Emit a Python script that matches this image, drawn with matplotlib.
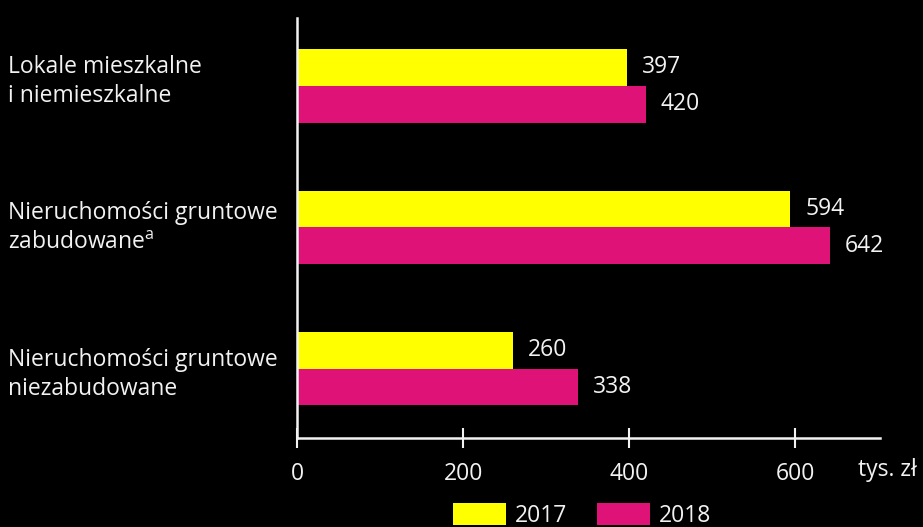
import numpy as np
import matplotlib
matplotlib.use("Agg")
import matplotlib.pyplot as plt
import matplotlib.transforms as mtransforms
from matplotlib.patches import Patch

FONT = ["Open Sans", "DejaVu Sans"]
plt.rcParams["font.family"] = FONT
plt.rcParams["mathtext.default"] = "regular"

CATEGORIES = [
    "Lokale mieszkalne\ni niemieszkalne",
    "Nieruchomości gruntowe\nzabudowane$^{a}$",
    "Nieruchomości gruntowe\nniezabudowane",
]
VALUES_2017 = [397, 594, 260]
VALUES_2018 = [420, 642, 338]
SERIES = ["2017", "2018"]
X_TICKS = [0, 200, 400, 600]
UNIT = "tys. zł"

BG = "black"
FG = "#f2f2f2"
YELLOW = "#ffff00"
MAGENTA = "#df1278"
FS = 16.5

fig = plt.figure(figsize=(9.23, 5.27), dpi=100, facecolor=BG)
ax = fig.add_axes([297 / 923, 1 - 438 / 527, (880 - 297) / 923, (438 - 18) / 527])
ax.set_facecolor(BG)

y = np.arange(len(CATEGORIES))
h = 0.26
bars17 = ax.barh(y - h / 2, VALUES_2017, height=h, color=YELLOW)
bars18 = ax.barh(y + h / 2, VALUES_2018, height=h, color=MAGENTA)

for bars, vals in [(bars17, VALUES_2017), (bars18, VALUES_2018)]:
    for b, v in zip(bars, vals):
        ax.text(v + 18, b.get_y() + b.get_height() / 2, str(v), color=FG,
                fontsize=FS, va="center", ha="left")

ax.set_xlim(0, 702)
ax.set_ylim(2.49, -0.48)

for s in ["top", "right"]:
    ax.spines[s].set_visible(False)
for s in ["left", "bottom"]:
    ax.spines[s].set_color(FG)
    ax.spines[s].set_linewidth(1.8)

ax.set_xticks(X_TICKS)
ax.set_xticklabels([str(t) for t in X_TICKS])
ax.tick_params(axis="x", colors=FG, labelsize=FS, direction="inout",
               length=14, width=1.5, pad=10)
ax.set_yticks(y)
ax.set_yticklabels(CATEGORIES)
ax.tick_params(axis="y", length=0, colors=FG, labelsize=FS, pad=208)
# small upward nudges so the labels sit like in the original
for lbl, dy in zip(ax.get_yticklabels(), [10, 5, 0]):
    lbl.set_ha("left")
    lbl.set_linespacing(1.3)
    lbl.set_transform(lbl.get_transform() +
                      mtransforms.ScaledTranslation(0, dy / 100, fig.dpi_scale_trans))

ax.text(676, -0.076, UNIT, transform=ax.get_xaxis_transform(), color=FG,
        fontsize=FS, ha="left", va="center", clip_on=False)

handles = [Patch(facecolor=YELLOW), Patch(facecolor=MAGENTA)]
leg = fig.legend(handles, SERIES, loc="upper center",
                 bbox_to_anchor=(582 / 923, 1 - 492 / 527), ncol=2, frameon=False,
                 fontsize=FS, handlelength=2.3, handleheight=1.1, handletextpad=0.4,
                 columnspacing=1.3, borderpad=0)
for t in leg.get_texts():
    t.set_color(FG)

fig.savefig("out.png", dpi=100, facecolor=BG)
